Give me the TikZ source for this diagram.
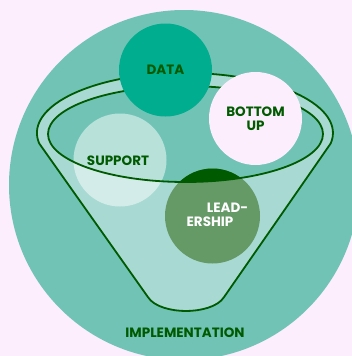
\documentclass[tikz,border=0pt]{standalone}
\usepackage{fontspec}
\setmainfont{Poppins}
\definecolor{bg}{HTML}{FCEEFC}
\definecolor{circleteal}{HTML}{71C3B6}
\definecolor{funnellight}{HTML}{A8DAD3}
\definecolor{linegreen}{HTML}{005A00}
\definecolor{datagreen}{HTML}{00AD8E}
\definecolor{leadgreen}{HTML}{659966}

\begin{document}
\begin{tikzpicture}[x=1pt,y=1pt,
    label font/.style={font=\bfseries\fontsize{13.5}{15}\selectfont},
    bubble/.style={circle, minimum size=93pt, inner sep=0pt, align=center, text=linegreen, label font},
    rim/.style={draw=linegreen, line width=1.8pt, line join=round}]
    % page
    \clip (0,0) rectangle (352,-356);
    \fill[bg] (0,0) rectangle (352,-356);
    \fill[circleteal] (184,-185) circle (175);
    % funnel body
    \filldraw[rim, fill=funnellight] (39.2,-143.4)
        arc[start angle=190, end angle=-10, x radius=148, y radius=60]
        -- (224.1,-297) .. controls (218,-307) and (200,-311) .. (186,-311)
        .. controls (172,-311) and (154,-307) .. (147.9,-297) -- cycle;
    % opening
    \fill[circleteal] (185.5,-134) ellipse [x radius=137.5, y radius=48];
    % support and leadership
    \node[bubble, fill=white, fill opacity=0.5, text opacity=1] (support) at (120,-160) {};
    \node[bubble, fill=leadgreen, minimum size=95pt] (lead) at (212.5,-216) {};
    \begin{scope}
        \clip (185.5,-134) ellipse [x radius=137.5, y radius=48];
        \fill[linegreen] (lead.center) circle (47.5);
    \end{scope}
    \draw[rim] (185.5,-134) ellipse [x radius=137.5, y radius=48];
    % data and bottom up
    \node[bubble, fill=datagreen] (data) at (165.5,-70) {DATA};
    \node[bubble, fill=bg] (bottom) at (255.5,-118.5) {BOTTOM\\[-1pt]UP};
    % labels
    \node[label font, text=linegreen] (supporttext) at ([shift={(-2,-1)}]support.center) {SUPPORT};
    \node[label font, text=white] (leadtop) at ([shift={(15,8)}]lead.center) {LEAD-};
    \node[label font, text=white] (leadbottom) at ([shift={(-2.5,-6)}]lead.center) {ERSHIP};
    \node[label font, text=linegreen] (impl) at (185,-333) {IMPLEMENTATION};
\end{tikzpicture}
\end{document}
